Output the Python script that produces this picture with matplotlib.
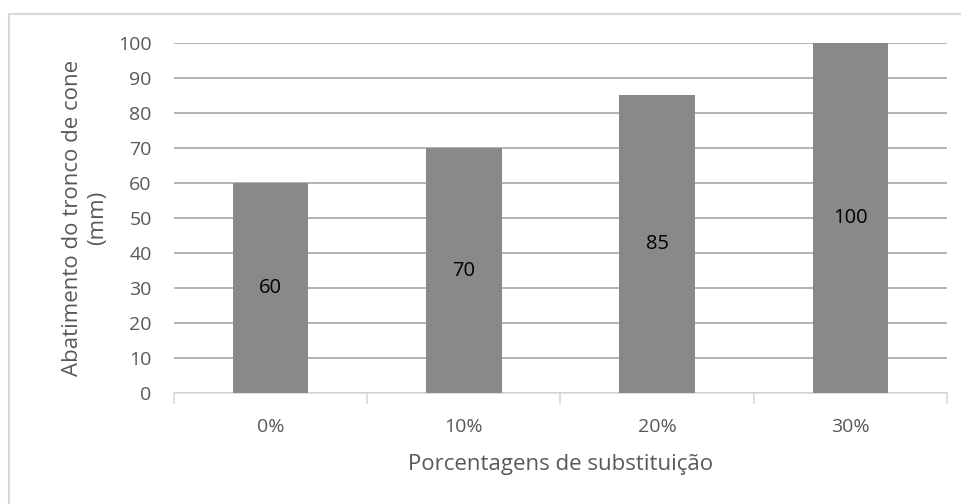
import matplotlib.pyplot as plt
import matplotlib.patches as patches

categories = ['0%', '10%', '20%', '30%']
values = [60, 70, 85, 100]
y_ticks = list(range(0, 101, 10))

plt.rcParams['font.family'] = ['Open Sans', 'DejaVu Sans']

fig = plt.figure(figsize=(9.61, 5.04), dpi=100)
ax = fig.add_axes([0.181, 0.2202, 0.8044, 0.6945])

# outer chart border (cut off right/bottom in the reference)
fig.patches.append(patches.Rectangle((9 / 961, -0.1), 1.2, 1 - 14 / 504 + 0.1,
                                     transform=fig.transFigure, fill=False,
                                     edgecolor='#d9d9d9', linewidth=1.5))

x = list(range(len(categories)))
bars = ax.bar(x, values, width=0.39, color='#898989', zorder=3)

for b, v in zip(bars, values):
    ax.text(b.get_x() + b.get_width() / 2, v / 2, str(v), ha='center', va='center',
            fontsize=14.5, color='black', zorder=4)

ax.set_xlim(-0.5, len(categories) - 0.5)
ax.set_ylim(0, 100)
ax.set_yticks(y_ticks)
ax.yaxis.grid(True, color='#a6a6a6', linewidth=1.2, zorder=0)
ax.set_axisbelow(True)

ax.set_xticks([i - 0.5 for i in range(len(categories) + 1)], minor=False)
ax.set_xticklabels([])
ax.set_xticks(x, minor=True)
ax.set_xticklabels(categories, minor=True)
ax.tick_params(axis='x', which='major', length=8, color='#d9d9d9', width=1.2)
ax.tick_params(axis='x', which='minor', length=0, pad=18, labelsize=14, labelcolor='#595959')
ax.tick_params(axis='y', length=0, pad=16, labelsize=14, labelcolor='#595959')

for s in ['top', 'right', 'left']:
    ax.spines[s].set_visible(False)
ax.spines['bottom'].set_color('#d9d9d9')
ax.spines['bottom'].set_linewidth(1.2)

ax.set_xlabel('Porcentagens de substituição', fontsize=16, color='#595959', labelpad=13)
ax.set_ylabel('Abatimento do tronco de cone\n(mm)', fontsize=16, color='#595959', labelpad=7,
              linespacing=1.3)

fig.savefig('out.png', dpi=100)
